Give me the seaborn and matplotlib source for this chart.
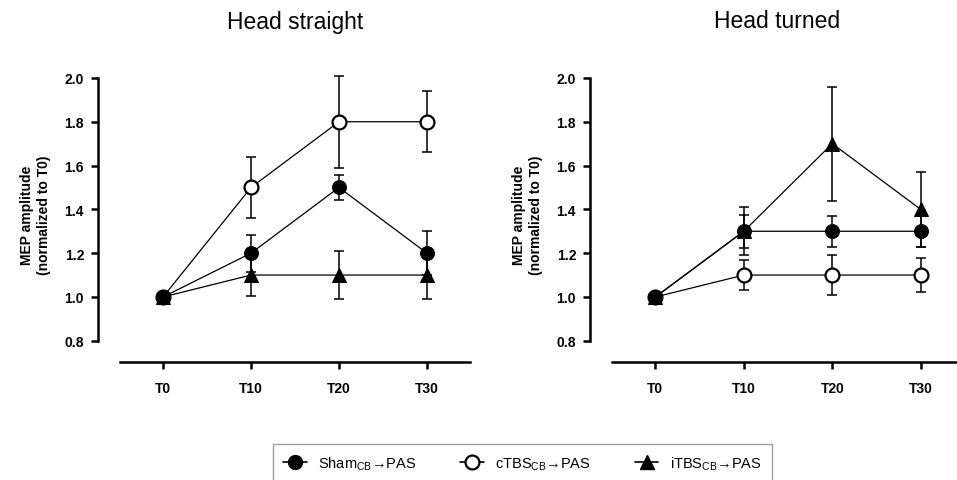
import matplotlib
matplotlib.use("Agg")
import matplotlib.pyplot as plt
from matplotlib.lines import Line2D
import numpy as np
import pandas as pd
import seaborn as sns

# time points
times = ["T0", "T10", "T20", "T30"]
groups = ["Sham", "cTBS", "iTBS"]
labels = [r"Sham$_{\mathrm{CB}}$→PAS", r"cTBS$_{\mathrm{CB}}$→PAS", r"iTBS$_{\mathrm{CB}}$→PAS"]

# Head straight: means and SE
straight_sham = [1.0, 1.2, 1.5, 1.2]
straight_sham_se = [0.0, 0.085, 0.057, 0.10]
straight_ctbs = [1.0, 1.5, 1.8, 1.8]
straight_ctbs_se = [0.0, 0.14, 0.21, 0.14]
straight_itbs = [1.0, 1.1, 1.1, 1.1]
straight_itbs_se = [0.0, 0.097, 0.11, 0.11]

# Head turned: means and SE
turned_sham = [1.0, 1.3, 1.3, 1.3]
turned_sham_se = [0.0, 0.075, 0.07, 0.07]
turned_ctbs = [1.0, 1.1, 1.1, 1.1]
turned_ctbs_se = [0.0, 0.07, 0.09, 0.078]
turned_itbs = [1.0, 1.3, 1.7, 1.4]
turned_itbs_se = [0.0, 0.11, 0.26, 0.17]

sns.set_style("ticks")
plt.rcParams['font.family'] = ['Liberation Sans', 'DejaVu Sans']
plt.rcParams['mathtext.fontset'] = 'custom'
plt.rcParams['mathtext.rm'] = 'Liberation Sans'
plt.rcParams['axes.edgecolor'] = 'black'
plt.rcParams['xtick.color'] = 'black'
plt.rcParams['ytick.color'] = 'black'
plt.rcParams['text.color'] = 'black'
plt.rcParams['axes.labelcolor'] = 'black'

styles = {
    "Sham": dict(marker="o", markersize=10, markerfacecolor="black", markeredgecolor="black"),
    "cTBS": dict(marker="o", markersize=10, markerfacecolor="white", markeredgecolor="black", markeredgewidth=1.6),
    "iTBS": dict(marker="^", markersize=10.5, markerfacecolor="black", markeredgecolor="black"),
}
draw_order = ["cTBS", "iTBS", "Sham"]


def make_df(sham, ctbs, itbs, sham_se, ctbs_se, itbs_se):
    rows = []
    for g, m, s in zip(groups, [sham, ctbs, itbs], [sham_se, ctbs_se, itbs_se]):
        for i, t in enumerate(times):
            rows.append({"group": g, "x": i, "mean": m[i], "se": s[i]})
    return pd.DataFrame(rows)


panels = [
    (make_df(straight_sham, straight_ctbs, straight_itbs,
             straight_sham_se, straight_ctbs_se, straight_itbs_se), "Head straight"),
    (make_df(turned_sham, turned_ctbs, turned_itbs,
             turned_sham_se, turned_ctbs_se, turned_itbs_se), "Head turned"),
]

fig = plt.figure(figsize=(9.57, 4.81), dpi=100)
H = 481.0
W = 957.0
axes_px = [(98, 470), (590, 964)]
title_x = [295, 777]
top_px, bot_px = 68, 363

for (df, title), (l, r), tx in zip(panels, axes_px, title_x):
    ax = fig.add_axes([l / W, 1 - bot_px / H, (r - l) / W, (bot_px - top_px) / H])
    for g in draw_order:
        sub = df[df["group"] == g]
        ax.errorbar(sub["x"], sub["mean"], yerr=sub["se"], fmt="none", ecolor="black",
                    elinewidth=1.1, capsize=3.5, capthick=1.1, zorder=2)
    for g in draw_order:
        sub = df[df["group"] == g]
        sns.lineplot(data=sub, x="x", y="mean", ax=ax, color="black", linewidth=0.9,
                     zorder=3, clip_on=False, **styles[g])
    ax.set_xlim(-0.74, 3.49)
    ax.set_ylim(0.703, 2.05)
    ax.spines["top"].set_visible(False)
    ax.spines["right"].set_visible(False)
    ax.spines["left"].set_bounds(0.8, 2.0)
    ax.spines["bottom"].set_bounds(-0.49, 3.49)
    ax.spines["left"].set_linewidth(1.8)
    ax.spines["bottom"].set_linewidth(1.8)
    ax.set_xticks(range(len(times)))
    ax.set_xticklabels(times, fontweight="bold", fontsize=10)
    ax.set_yticks(np.arange(0.8, 2.01, 0.2))
    ax.set_yticklabels([f"{v:.1f}" for v in np.arange(0.8, 2.01, 0.2)], fontweight="bold", fontsize=10)
    ax.tick_params(axis="x", width=1.8, length=5, pad=9)
    ax.tick_params(axis="y", width=1.8, length=5, pad=5)
    ax.set_xlabel("")
    ax.set_ylabel("MEP amplitude\n(normalized to T0)", fontweight="bold", fontsize=10,
                  labelpad=10, linespacing=1.25)
    fig.text(tx / W, 1 - 22 / H, title, ha="center", va="center", fontsize=16.5)

handles = [Line2D([0], [0], color="black", linewidth=1.2, **styles[g]) for g in groups]
leg = fig.legend(handles, labels, loc="upper center", bbox_to_anchor=(522.5 / W, 1 - 438 / H),
                 ncol=3, frameon=True, fancybox=False, edgecolor="#888888", fontsize=10.5,
                 handlelength=1.6, columnspacing=3.0, borderpad=0.7, handletextpad=0.8)
leg.get_frame().set_linewidth(1.0)

plt.savefig("out.png", dpi=100)
